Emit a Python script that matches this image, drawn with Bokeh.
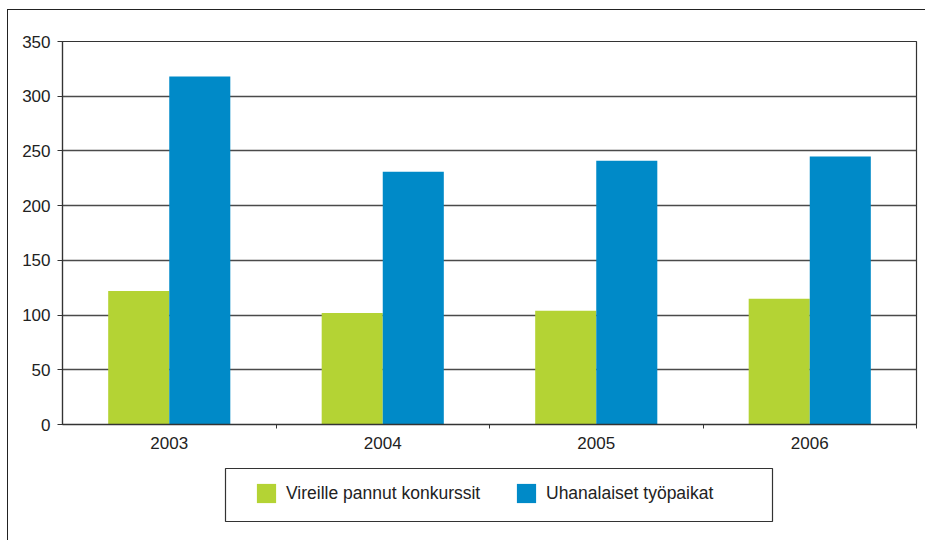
import numpy as np
from bokeh.plotting import figure
from bokeh.layouts import column
from bokeh.models import (Range1d, FixedTicker, SingleIntervalTicker, Legend, LegendItem)
from bokeh.embed import file_html
from bokeh.resources import INLINE

years = ["2003", "2004", "2005", "2006"]
konkurssit = [122, 102, 104, 115]
tyopaikat = [318, 231, 241, 245]
series_names = ["Vireille pannut konkurssit", "Uhanalaiset työpaikat"]
colors = ["#b4d334", "#008ac8"]

FONT = "Liberation Sans"
W = 917

# ---- main chart ----
p = figure(width=W, height=450, output_backend="svg", toolbar_location=None,
           x_range=Range1d(0, len(years)), y_range=Range1d(0, 350),
           min_border_left=54, min_border_top=31, min_border_right=9, min_border_bottom=36)

idx = np.arange(len(years)) + 0.5
bw = 0.286
r1 = p.vbar(x=idx - bw / 2, top=konkurssit, width=bw, fill_color=colors[0], line_color=None)
r2 = p.vbar(x=idx + bw / 2, top=tyopaikat, width=bw, fill_color=colors[1], line_color=None)

p.outline_line_color = "#333333"
p.outline_line_width = 1.2
p.background_fill_color = "white"
p.border_fill_color = "white"

p.xgrid.visible = False
p.ygrid.grid_line_color = "#4a4a4a"
p.ygrid.grid_line_width = 1.3
p.ygrid.ticker = SingleIntervalTicker(interval=50)

xa = p.xaxis[0]
xa.ticker = FixedTicker(ticks=list(idx), minor_ticks=[1, 2, 3, 4])
xa.major_label_overrides = {float(v): y for v, y in zip(idx, years)}
xa.major_tick_line_color = None
xa.major_tick_out = 0
xa.major_tick_in = 0
xa.minor_tick_line_color = "#333333"
xa.minor_tick_out = 4
xa.minor_tick_in = 0
xa.axis_line_color = "#333333"
xa.axis_line_width = 1.5
xa.major_label_standoff = 8
xa.major_label_text_font = FONT
xa.major_label_text_font_size = "17px"
xa.major_label_text_color = "#222222"

ya = p.yaxis[0]
ya.ticker = SingleIntervalTicker(interval=50)
ya.minor_tick_line_color = None
ya.major_tick_out = 5
ya.major_tick_in = 0
ya.major_tick_line_color = "#333333"
ya.axis_line_color = "#333333"
ya.axis_line_width = 1.2
ya.major_label_standoff = 7
ya.major_label_text_font = FONT
ya.major_label_text_font_size = "17px"
ya.major_label_text_color = "#222222"

# ---- legend strip (frame is aligned with the chart frame: page x 62..916) ----
q = figure(width=W, height=80, output_backend="svg", toolbar_location=None,
           x_range=Range1d(62, 916), y_range=Range1d(540, 460),
           x_axis_location=None, y_axis_location=None,
           min_border_left=54, min_border_right=9, min_border_top=0, min_border_bottom=0)
q.grid.visible = False
q.outline_line_color = None
q.background_fill_color = "white"
q.border_fill_color = "white"
q.quad(left=[225], right=[772], top=[468], bottom=[521],
       fill_color="white", line_color="#333333", line_width=1.2)
# legend proxies (their single point lies outside the visible range)
d1 = q.quad(left=[0], right=[1], top=[0], bottom=[1], fill_color=colors[0], line_color=None)
d2 = q.quad(left=[0], right=[1], top=[0], bottom=[1], fill_color=colors[1], line_color=None)

legend = Legend(items=[LegendItem(label=series_names[0], renderers=[d1]),
                       LegendItem(label=series_names[1], renderers=[d2])],
                orientation="horizontal", location=(192, 35),
                padding=0, margin=0, spacing=33,
                glyph_width=24, glyph_height=24, label_height=24, label_width=195,
                label_standoff=8,
                label_text_font=FONT, label_text_font_size="17.5px",
                label_text_color="#222222",
                border_line_color=None, background_fill_alpha=0)
q.add_layout(legend, "center")

layout = column(p, q, spacing=0)
layout.styles = {"margin-left": "7px", "margin-top": "9px",
                 "border-top": "1px solid #222222", "border-left": "1px solid #222222"}

open("out.html", "w").write(file_html(layout, INLINE))
